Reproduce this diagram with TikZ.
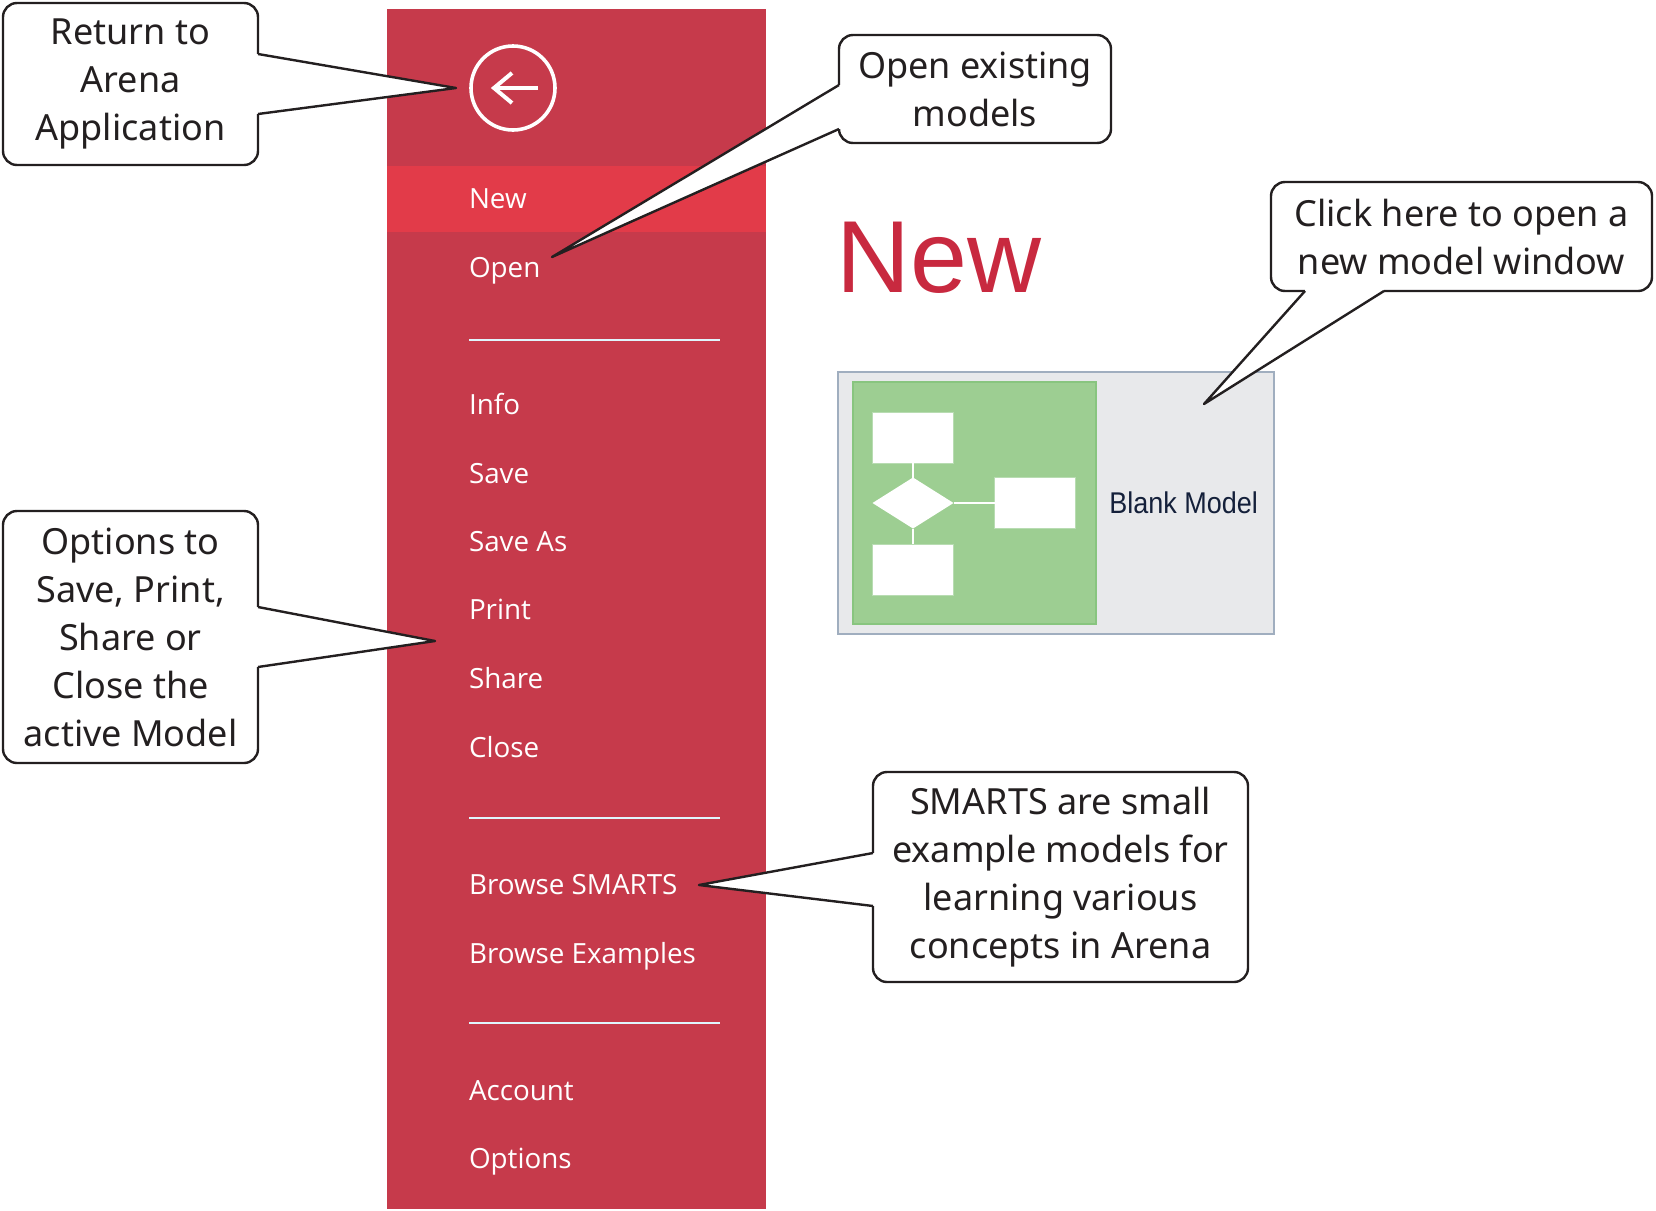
\documentclass[tikz,border=0pt]{standalone}
\usepackage{xcolor}
\usepackage{fontspec}
\setmainfont{Noto Sans}
\newfontfamily\menufont{Open Sans}
\newfontfamily\arialfont{Liberation Sans}
\newfontfamily\cardfont[FakeStretch=0.9]{Liberation Sans}
\usepackage{tikz}
\usetikzlibrary{positioning,shapes.geometric}
\definecolor{panelred}{HTML}{C63A4B}
\definecolor{hilitered}{HTML}{E23B49}
\definecolor{titlered}{HTML}{C8293F}
\definecolor{ink}{HTML}{231F20}
\definecolor{cardgray}{HTML}{E8E9EB}
\definecolor{cardedge}{HTML}{A0AEBF}
\definecolor{thumbgreen}{HTML}{9DCE92}
\definecolor{thumbedge}{HTML}{88C57F}
\definecolor{cardtext}{HTML}{14203A}
\tikzset{
    callbox/.style={draw=ink,fill=white,line width=1.2pt,rounded corners=7pt,
      inner sep=0pt,outer sep=0pt,align=center,text=ink,
      font=\fontsize{18}{24}\selectfont},
    calltail/.style={draw=ink,fill=white,line width=1.2pt,line join=round},
    menuitem/.style={anchor=base west,inner sep=0pt,outer sep=0pt,text=white,
      font=\menufont\fontsize{13.9}{16}\selectfont},
    menurule/.style={draw=white!88!cyan,line width=1.1pt},
    flowbox/.style={fill=white,draw=thumbedge!60!white,line width=0.4pt,inner sep=0pt,outer sep=0pt,
      minimum width=40.5pt,minimum height=25.5pt},
    flowline/.style={draw=white,line width=1.1pt}
}
\begin{document}
\begin{tikzpicture}[x=0.5pt,y=-0.5pt]
  \useasboundingbox (0,0) rectangle (1656,1211);
  % menu panel
  \node[fill=panelred,inner sep=0pt,outer sep=0pt,minimum width=189.5pt,minimum height=600pt] (panel) at (576.5,609) {};
  \node[fill=hilitered,inner sep=0pt,outer sep=0pt,minimum width=189.5pt,minimum height=33pt] (hilite) at (576.5,199) {};
  \node[circle,draw=white,line width=1.8pt,inner sep=0pt,minimum size=42pt] (backbtn) at (513,88) {};
  \draw[white,line width=2pt] (538,88)--(496,88);
  \draw[white,line width=2pt,line join=miter] (512,73)--(494,88)--(512,103);
  \foreach \n/\y/\v in {new/208/New,open/277/Open,info/414/Info,save/483/Save,saveas/551/Save As,
      print/619/Print,share/688/Share,close/757/Close,smarts/894/Browse SMARTS,
      examples/963/Browse Examples,account/1100/Account,options/1168/Options} {
    \node[menuitem] (m\n) at (469,\y) {\v};
  }
  \foreach \y in {340,818,1023} {
    \draw[menurule] (469,\y)--(720,\y);
  }
  % title and model card
  \node[anchor=base west,inner sep=0pt,text=titlered,font=\arialfont\fontsize{51.2}{52}\selectfont] (title) at (836,292) {New};
  \node[fill=cardgray,draw=cardedge,line width=1pt,inner sep=0pt,outer sep=0pt,minimum width=218pt,minimum height=131pt] (card) at (1056,503) {};
  \node[fill=thumbgreen,draw=thumbedge,line width=0.6pt,inner sep=0pt,outer sep=0pt,minimum width=121.5pt,minimum height=121pt] (thumb) at (974.5,503) {};
  \node[flowbox] (fbtop) at (913,437.5) {};
  \node[diamond,aspect=1.6,fill=white,inner sep=0pt,outer sep=0pt,minimum width=40.5pt,minimum height=25.5pt] (fbdec) at (913,503) {};
  \node[flowbox] (fbright) at (1035,503) {};
  \node[flowbox] (fblow) at (913,569.5) {};
  \draw[flowline] (fbtop)--(fbdec);
  \draw[flowline] (fbdec)--(fblow);
  \draw[flowline] (fbdec)--(fbright);
  \node[anchor=base west,inner sep=0pt,text=cardtext,font=\cardfont\fontsize{15}{16}\selectfont] (cardname) at (1109,513) {Blank Model};
  % callouts
  \node[callbox,minimum width=127.5pt,minimum height=81pt] (callret) at (130.5,84) {Return to\\Arena\\Application};
  \node[callbox,minimum width=136pt,minimum height=54pt] (callopen) at (975,89) {Open existing\\models};
  \node[callbox,minimum width=190.5pt,minimum height=54.5pt] (callclick) at (1461.5,236.5) {Click here to open a\\new model window};
  \node[callbox,minimum width=127.5pt,minimum height=126pt] (callopts) at (130.5,637) {Options to\\Save, Print,\\Share or\\Close the\\active Model};
  \node[callbox,minimum width=187.5pt,minimum height=105pt] (callsmarts) at (1060.5,877) {SMARTS are small\\example models for\\learning various\\concepts in Arena};
  \coordinate (ret-a) at (callret.east |- 0,54);
  \coordinate (ret-b) at (callret.east |- 0,114);
  \coordinate (ret-tip) at (456,88);
  \coordinate (open-a) at (callopen.west |- 0,85);
  \coordinate (open-b) at (callopen.west |- 0,129);
  \coordinate (open-tip) at (552,257);
  \coordinate (click-a) at (1305,0 |- callclick.south);
  \coordinate (click-b) at (1384,0 |- callclick.south);
  \coordinate (click-tip) at (1204,404);
  \coordinate (opts-a) at (callopts.east |- 0,607);
  \coordinate (opts-b) at (callopts.east |- 0,667);
  \coordinate (opts-tip) at (435,641);
  \coordinate (smarts-a) at (callsmarts.west |- 0,853);
  \coordinate (smarts-b) at (callsmarts.west |- 0,906);
  \coordinate (smarts-tip) at (699,885);
  \foreach \n in {ret,open,click,opts,smarts} {
    \draw[white,line width=1.8pt] (\n-a)--(\n-b);
    \path[calltail] (\n-a)--(\n-tip)--(\n-b);
  }
\end{tikzpicture}
\end{document}
